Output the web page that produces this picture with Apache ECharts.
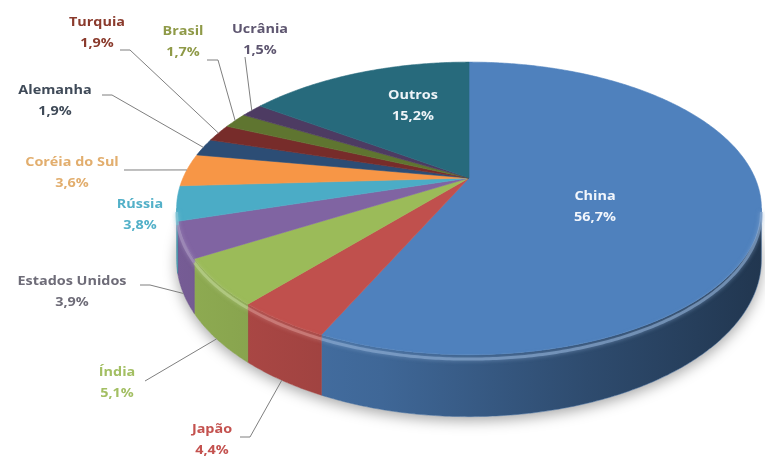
<!DOCTYPE html>
<html>
<head>
<meta charset="utf-8">
<script src="https://cdn.jsdelivr.net/npm/echarts@6/dist/echarts.min.js"></script>
<style>
  html, body { margin: 0; padding: 0; background: #ffffff; }
  #chart { width: 765px; height: 458px; }
</style>
</head>
<body>
<div id="chart"></div>
<script>
// Produção mundial por país (% do total)
const countries = ['China', 'Japão', 'Índia', 'Estados Unidos', 'Rússia', 'Coréia do Sul',
                   'Alemanha', 'Turquia', 'Brasil', 'Ucrânia', 'Outros'];
const shares = [56.7, 4.4, 5.1, 3.9, 3.8, 3.6, 1.9, 1.9, 1.7, 1.5, 15.2];

// slice and label colours
const sliceColors = ['#4F81BD', '#C0504D', '#9BBB59', '#8064A2', '#4BACC6', '#F79646',
                     '#2C4D75', '#772C2A', '#5F7530', '#4D3B62', '#276A7C'];
const textColors = ['#F2F6FC', '#C4524F', '#A3BF63', '#6E6C78', '#52B0C8', '#E2AE6E',
                    '#3F4A58', '#8A3A2C', '#8F9A48', '#5E5670', '#EEF4F8'];

// label placement: centre of the first text line
const labelAt = [[595, 197], [212, 430], [117, 373], [72, 282], [140, 205], [72, 163],
                 [55, 91], [97, 23], [183, 32], [260, 30], [413, 96]];
// leader line tail next to each outside label (x1, y1, x2, y2)
const leaderFrom = [null, [240, 437, 250, 437], [145, 381, 145, 381], [140, 285, 150, 285], null,
                    [124, 170, 124, 170], [102, 95, 112, 95], [120, 50, 130, 50],
                    [207, 60, 218, 60], [245, 57, 245, 57], null];

// cumulative start of every slice
const starts = [];
let runningTotal = 0;
shares.forEach(v => { starts.push(runningTotal); runningTotal += v; });
const total = runningTotal;

// tilted disc seen in perspective
const disc = { cx: 469, cy: 178, w: 286, a: 140, k: 0.208, t: 49 };
function project(phi, r, h) {
  const u = r * Math.cos(phi), v = r * Math.sin(phi);
  const s = 1 + disc.k * v;
  return [disc.cx + disc.w * u / s, disc.cy - disc.a * v / s + h * disc.t / s];
}
function angleOf(p) { return Math.PI / 2 - 2 * Math.PI * p / total; }
function arc(a, b, r, h) {
  const pts = [];
  const n = Math.max(2, Math.ceil(Math.abs(a - b) / 0.01));
  for (let j = 0; j <= n; j++) pts.push(project(a + (b - a) * j / n, r, h));
  return pts;
}
function shade(hex, f) {
  const n = parseInt(hex.slice(1), 16);
  let r = n >> 16, g = (n >> 8) & 255, b = n & 255;
  if (f <= 1) { r *= f; g *= f; b *= f; }
  else { const m = f - 1; r += (255 - r) * m; g += (255 - g) * m; b += (255 - b) * m; }
  return 'rgb(' + Math.round(r) + ',' + Math.round(g) + ',' + Math.round(b) + ')';
}
function pct(v) { return v.toFixed(1).replace('.', ',') + '%'; }

const frontRight = -Math.asin(disc.k);
const frontLeft = -Math.PI + Math.asin(disc.k);
const labelFont = 'bold 12px "Open Sans", "DejaVu Sans", sans-serif';

function renderItem(params, api) {
  const i = params.dataIndex;
  const value = api.value(0);
  const start = api.value(1);
  const a0 = angleOf(start);
  const a1 = angleOf(start + value);
  const color = sliceColors[i];
  const children = [];

  if (i === 0) {
    // soft shadow under the whole disc
    children.push({
      type: 'polygon', z2: 0,
      shape: { points: arc(0, 2 * Math.PI, 1, 1) },
      style: { fill: '#ffffff', shadowBlur: 14, shadowOffsetY: 4, shadowColor: 'rgba(0,0,0,0.35)' }
    });
  }

  // visible outer wall
  const wa = Math.min(a0, frontRight);
  const wb = Math.max(a1, frontLeft);
  if (wa > wb) {
    const top = arc(wa, wb, 1, 0);
    const bottom = arc(wb, wa, 1, 1);
    children.push({
      type: 'polygon', z2: 1,
      shape: { points: top.concat(bottom) },
      style: {
        fill: {
          type: 'linear', global: true, x: 175, y: 0, x2: 765, y2: 0,
          colorStops: [
            { offset: 0, color: shade(color, 0.92) },
            { offset: 0.35, color: shade(color, 0.8) },
            { offset: 0.7, color: shade(color, 0.58) },
            { offset: 1, color: shade(color, 0.42) }
          ]
        },
        stroke: shade(color, 0.8), lineWidth: 0.5
      }
    });
    // bevel highlight along the rim
    children.push({
      type: 'polyline', z2: 3,
      shape: { points: arc(wa, wb, 1, 0.07) },
      style: { stroke: shade(color, 1.35), lineWidth: 3, opacity: 0.6, fill: null, shadowBlur: 4, shadowColor: shade(color, 1.35) }
    });
  }

  // top face
  children.push({
    type: 'polygon', z2: 2,
    shape: { points: [[disc.cx, disc.cy]].concat(arc(a0, a1, 1, 0)) },
    style: { fill: color, stroke: color, lineWidth: 0.6 }
  });

  // label (slightly widened lettering)
  const at = labelAt[i];
  children.push({
    type: 'text', z2: 6,
    x: at[0], y: at[1] - 10.5, scaleX: 1.2,
    style: {
      text: countries[i] + '\n' + pct(value),
      x: 0, y: 0,
      align: 'center', verticalAlign: 'top',
      lineHeight: 21, font: labelFont, fill: textColors[i]
    }
  });

  // leader line
  const tail = leaderFrom[i];
  if (tail) {
    const mid = (a0 + a1) / 2;
    const onFront = Math.sin(mid) < -disc.k;
    const anchor = project(mid, 1, onFront ? 1 : 0);
    children.push({
      type: 'polyline', z2: 5,
      shape: { points: [[tail[0], tail[1]], [tail[2], tail[3]], anchor] },
      style: { stroke: '#7F7F7F', lineWidth: 1, fill: null }
    });
  }

  return { type: 'group', children: children };
}

const chart = echarts.init(document.getElementById('chart'), null, { renderer: 'canvas' });
chart.setOption({
  backgroundColor: '#ffffff',
  animation: false,
  series: [{
    type: 'custom',
    coordinateSystem: 'none',
    renderItem: renderItem,
    data: shares.map((v, i) => [v, starts[i]])
  }]
});
</script>
</body>
</html>
